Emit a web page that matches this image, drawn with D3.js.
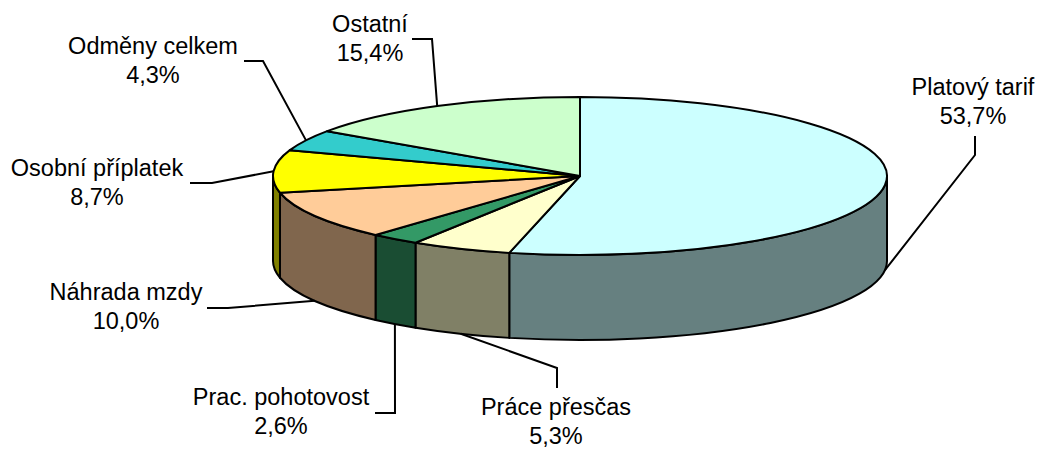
<!DOCTYPE html>
<html>
<head>
<meta charset="utf-8">
<script src="https://cdn.jsdelivr.net/npm/d3@7"></script>
<style>
  body { margin: 0; background: #fff; }
  svg { display: block; }
</style>
</head>
<body>
<svg id="chart" width="1039" height="449"></svg>
<script>
// data
var categories = ["Platový tarif", "Práce přesčas", "Prac. pohotovost", "Náhrada mzdy",
                  "Osobní příplatek", "Odměny celkem", "Ostatní"];
var values = [53.7, 5.3, 2.6, 10.0, 8.7, 4.3, 15.4];
var valueLabels = ["53,7%", "5,3%", "2,6%", "10,0%", "8,7%", "4,3%", "15,4%"];
var colors = ["#CCFFFF", "#FFFFCC", "#339966", "#FFCC99", "#FFFF00", "#33CCCC", "#CCFFCC"];

// label placement: text centre x, first baseline, elbow point, leader start
var labelLayout = [
  { tx: 973, ty: 95,  elbow: [975, 155], start: [975, 136] },
  { tx: 556, ty: 415, elbow: [557, 368], start: [557, 388] },
  { tx: 281, ty: 405, elbow: [395, 413], start: [375, 413] },
  { tx: 126, ty: 300, elbow: [228, 308], start: [207, 308] },
  { tx: 97,  ty: 176, elbow: [212, 183], start: [190, 183] },
  { tx: 153, ty: 54,  elbow: [263, 61],  start: [244, 61] },
  { tx: 370, ty: 32,  elbow: [432, 39],  start: [412, 39] }
];

var svg = d3.select("#chart");

var cx = 580, cy = 176, rx = 307, ry = 79, depth = 85;

var pie = d3.pie().sort(null).value(function (d) { return d; });
var arcs = pie(values);

function pt(a, dy) {
  return [cx + rx * Math.sin(a), cy - ry * Math.cos(a) + (dy || 0)];
}

function sideColor(c) {
  var rgb = d3.rgb(c);
  return d3.rgb(rgb.r / 2, rgb.g / 2, rgb.b / 2).formatHex();
}

// side walls (only the front half, pi/2 .. 3pi/2)
var sides = svg.append("g");
arcs.forEach(function (d, i) {
  var a0 = Math.max(d.startAngle, Math.PI / 2);
  var a1 = Math.min(d.endAngle, Math.PI * 1.5);
  if (a1 <= a0) return;
  var p0 = pt(a0), p1 = pt(a1), q1 = pt(a1, depth), q0 = pt(a0, depth);
  var path = "M" + p0 + " A" + rx + "," + ry + " 0 0 1 " + p1 +
             " L" + q1 + " A" + rx + "," + ry + " 0 0 0 " + q0 + " Z";
  sides.append("path")
    .attr("d", path)
    .attr("fill", sideColor(colors[i]))
    .attr("stroke", "#000")
    .attr("stroke-width", 2)
    .attr("stroke-linejoin", "round");
});

// top faces
var tops = svg.append("g");
arcs.forEach(function (d, i) {
  var p0 = pt(d.startAngle), p1 = pt(d.endAngle);
  var large = (d.endAngle - d.startAngle) > Math.PI ? 1 : 0;
  var path = "M" + cx + "," + cy + " L" + p0 + " A" + rx + "," + ry + " 0 " + large + " 1 " + p1 + " Z";
  tops.append("path")
    .attr("d", path)
    .attr("fill", colors[i])
    .attr("stroke", "#000")
    .attr("stroke-width", 2)
    .attr("stroke-linejoin", "round");
});

// labels and leader lines
var labels = svg.append("g");
arcs.forEach(function (d, i) {
  var mid = (d.startAngle + d.endAngle) / 2;
  var front = Math.cos(mid) < 0;
  var anchor = pt(mid, front ? depth : 0);
  var L = labelLayout[i];

  labels.append("polyline")
    .attr("points", [L.start, L.elbow, anchor].map(function (p) { return p.join(","); }).join(" "))
    .attr("fill", "none")
    .attr("stroke", "#000")
    .attr("stroke-width", 2);

  var t = labels.append("text")
    .attr("x", L.tx)
    .attr("y", L.ty)
    .attr("text-anchor", "middle")
    .attr("font-family", "'Liberation Sans', Arial, sans-serif")
    .attr("font-size", 23.5)
    .attr("fill", "#000");
  t.append("tspan").attr("x", L.tx).text(categories[i]);
  t.append("tspan").attr("x", L.tx).attr("dy", 28.5).text(valueLabels[i]);
});
</script>
</body>
</html>
